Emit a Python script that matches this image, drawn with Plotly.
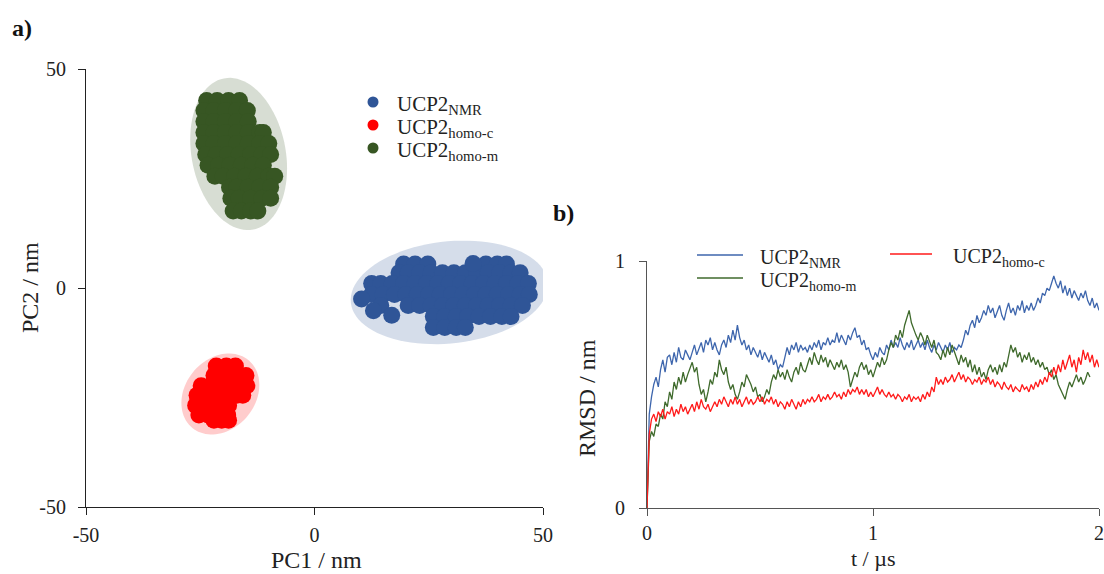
import numpy as np
import plotly.graph_objects as go

# ---------------- Panel a: PCA projection (PC1 / PC2, nm) ----------------
# cluster points typed row by row: one PC2 value per row, list of PC1 values per row
nmr_row_pc2 = [5.5, 3.5, 1.0, -1.5, -4.0, -6.5, -9.0, -2.5, -5.2, -6.2, 5.6]
nmr_row_pc1 = [
    [19.5, 22.0, 24.8, 37.5, 40.0, 42.0],
    [18.5, 20.5, 23.0, 25.5, 28.0, 30.5, 33.0, 35.5, 38.0, 40.5, 43.0, 45.0],
    [12.5, 14.5, 17.0, 19.5, 22.0, 24.5, 27.0, 29.5, 32.0, 34.5, 37.0, 39.5, 42.0, 44.5, 46.8],
    [12.5, 15.0, 17.5, 20.0, 22.5, 25.0, 27.5, 30.0, 32.5, 35.0, 37.5, 40.0, 42.5, 45.0, 47.0],
    [14.5, 20.5, 23.0, 25.5, 28.0, 30.5, 33.0, 35.5, 38.0, 40.5, 43.0, 45.5],
    [26.0, 28.5, 31.0, 33.5, 36.0, 38.5, 41.0, 43.0],
    [26.0, 28.5, 31.0, 33.0],
    [10.3],
    [12.9],
    [16.9],
    [34.7],
]

homoc_row_pc2 = [-17.8, -20.0, -22.3, -24.5, -26.8, -29.0, -30.2]
homoc_row_pc1 = [
    [-21.5, -19.3, -17.3],
    [-22.0, -19.8, -17.5, -15.0],
    [-24.8, -22.8, -20.5, -18.2, -16.0, -14.8],
    [-25.7, -23.8, -21.5, -19.2, -17.0, -15.7],
    [-26.0, -24.2, -22.0, -19.8, -18.8],
    [-25.3, -23.3, -21.0, -19.0],
    [-22.0, -20.3, -18.8],
]

homom_row_pc2 = [42.8, 40.5, 38.0, 35.5, 33.0, 30.5, 28.0, 25.5, 23.0, 20.5, 17.6]
homom_row_pc1 = [
    [-23.6, -21.3, -18.8, -16.4],
    [-24.2, -22.0, -19.5, -17.0, -14.7],
    [-24.2, -22.0, -19.5, -17.0, -14.5],
    [-24.2, -22.0, -19.5, -17.0, -14.5, -12.0, -11.2],
    [-24.2, -22.0, -19.5, -17.0, -14.5, -12.0, -10.0],
    [-23.8, -21.5, -19.0, -16.5, -14.0, -11.5, -9.6],
    [-23.3, -21.0, -18.5, -16.0, -13.5, -11.2],
    [-21.8, -20.0, -17.5, -15.0, -12.5, -10.0, -8.7],
    [-18.6, -17.0, -14.5, -12.0, -9.6],
    [-18.3, -16.5, -14.0, -11.5, -9.6],
    [-17.8, -16.0, -14.0, -12.4],
]

pc_tickvals = [-50, 0, 50]
pc_ticktext = ["-50", "0", "50"]

# ---------------- Panel b: RMSD vs time ----------------
t_us = [0.00, 0.01, 0.02, 0.03, 0.04, 0.05, 0.06, 0.07, 0.08, 0.09,
        0.10, 0.11, 0.12, 0.13, 0.14, 0.15, 0.16, 0.17, 0.18, 0.19,
        0.20, 0.21, 0.22, 0.23, 0.24, 0.25, 0.26, 0.27, 0.28, 0.29,
        0.30, 0.31, 0.32, 0.33, 0.34, 0.35, 0.36, 0.37, 0.38, 0.39,
        0.40, 0.41, 0.42, 0.43, 0.44, 0.45, 0.46, 0.47, 0.48, 0.49,
        0.50, 0.51, 0.52, 0.53, 0.54, 0.55, 0.56, 0.57, 0.58, 0.59,
        0.60, 0.61, 0.62, 0.63, 0.64, 0.65, 0.66, 0.67, 0.68, 0.69,
        0.70, 0.71, 0.72, 0.73, 0.74, 0.75, 0.76, 0.77, 0.78, 0.79,
        0.80, 0.81, 0.82, 0.83, 0.84, 0.85, 0.86, 0.87, 0.88, 0.89,
        0.90, 0.91, 0.92, 0.93, 0.94, 0.95, 0.96, 0.97, 0.98, 0.99,
        1.00, 1.01, 1.02, 1.03, 1.04, 1.05, 1.06, 1.07, 1.08, 1.09,
        1.10, 1.11, 1.12, 1.13, 1.14, 1.15, 1.16, 1.17, 1.18, 1.19,
        1.20, 1.21, 1.22, 1.23, 1.24, 1.25, 1.26, 1.27, 1.28, 1.29,
        1.30, 1.31, 1.32, 1.33, 1.34, 1.35, 1.36, 1.37, 1.38, 1.39,
        1.40, 1.41, 1.42, 1.43, 1.44, 1.45, 1.46, 1.47, 1.48, 1.49,
        1.50, 1.51, 1.52, 1.53, 1.54, 1.55, 1.56, 1.57, 1.58, 1.59,
        1.60, 1.61, 1.62, 1.63, 1.64, 1.65, 1.66, 1.67, 1.68, 1.69,
        1.70, 1.71, 1.72, 1.73, 1.74, 1.75, 1.76, 1.77, 1.78, 1.79,
        1.80, 1.81, 1.82, 1.83, 1.84, 1.85, 1.86, 1.87, 1.88, 1.89,
        1.90, 1.91, 1.92, 1.93, 1.94, 1.95, 1.96, 1.97, 1.98, 1.99,
        2.00]

rmsd_nmr = [0.00, 0.38, 0.45, 0.50, 0.53, 0.49, 0.56, 0.60, 0.55, 0.61,
            0.62, 0.58, 0.63, 0.59, 0.65, 0.61, 0.60, 0.64, 0.62, 0.60,
            0.63, 0.66, 0.62, 0.65, 0.67, 0.63, 0.68, 0.66, 0.69, 0.64,
            0.67, 0.64, 0.62, 0.66, 0.68, 0.65, 0.70, 0.67, 0.72, 0.68,
            0.74, 0.69, 0.66, 0.68, 0.64, 0.66, 0.62, 0.65, 0.63, 0.61,
            0.64, 0.60, 0.63, 0.61, 0.59, 0.62, 0.58, 0.60, 0.56, 0.58,
            0.57, 0.61, 0.65, 0.62, 0.66, 0.64, 0.67, 0.63, 0.66, 0.64,
            0.65, 0.63, 0.66, 0.64, 0.67, 0.65, 0.68, 0.64, 0.67, 0.66,
            0.69, 0.66, 0.68, 0.67, 0.71, 0.67, 0.70, 0.68, 0.66, 0.70,
            0.68, 0.71, 0.73, 0.69, 0.70, 0.66, 0.68, 0.64, 0.65, 0.62,
            0.60, 0.63, 0.61, 0.65, 0.63, 0.62, 0.66, 0.64, 0.68, 0.65,
            0.67, 0.65, 0.69, 0.66, 0.64, 0.67, 0.65, 0.68, 0.64, 0.66,
            0.68, 0.65, 0.67, 0.64, 0.68, 0.65, 0.63, 0.66, 0.64, 0.67,
            0.65, 0.63, 0.66, 0.64, 0.67, 0.63, 0.65, 0.64, 0.66, 0.65,
            0.68, 0.72, 0.70, 0.74, 0.76, 0.73, 0.78, 0.75, 0.77, 0.80,
            0.78, 0.82, 0.79, 0.81, 0.77, 0.80, 0.82, 0.78, 0.76, 0.80,
            0.83, 0.79, 0.81, 0.78, 0.82, 0.80, 0.84, 0.79, 0.82, 0.80,
            0.83, 0.80, 0.82, 0.85, 0.83, 0.87, 0.86, 0.89, 0.88, 0.91,
            0.94, 0.91, 0.89, 0.92, 0.87, 0.90, 0.86, 0.89, 0.85, 0.88,
            0.86, 0.84, 0.87, 0.85, 0.88, 0.84, 0.82, 0.85, 0.81, 0.83,
            0.80]

rmsd_homom = [0.00, 0.27, 0.31, 0.29, 0.34, 0.33, 0.38, 0.36, 0.43, 0.41,
              0.47, 0.44, 0.51, 0.48, 0.53, 0.50, 0.55, 0.51, 0.54, 0.57,
              0.59, 0.55, 0.57, 0.50, 0.46, 0.48, 0.43, 0.47, 0.52, 0.50,
              0.55, 0.53, 0.60, 0.56, 0.54, 0.57, 0.51, 0.48, 0.50, 0.46,
              0.44, 0.47, 0.51, 0.49, 0.54, 0.52, 0.50, 0.47, 0.49, 0.45,
              0.46, 0.43, 0.45, 0.48, 0.46, 0.51, 0.54, 0.52, 0.56, 0.53,
              0.55, 0.52, 0.56, 0.53, 0.51, 0.55, 0.57, 0.54, 0.59, 0.56,
              0.55, 0.58, 0.61, 0.58, 0.63, 0.60, 0.58, 0.62, 0.59, 0.61,
              0.57, 0.60, 0.58, 0.56, 0.59, 0.57, 0.60, 0.56, 0.58, 0.55,
              0.49, 0.52, 0.55, 0.53, 0.57, 0.59, 0.56, 0.58, 0.54, 0.56,
              0.53, 0.56, 0.59, 0.57, 0.61, 0.58, 0.60, 0.64, 0.67, 0.65,
              0.70, 0.68, 0.72, 0.69, 0.74, 0.77, 0.80, 0.75, 0.72, 0.70,
              0.68, 0.71, 0.69, 0.66, 0.70, 0.67, 0.65, 0.68, 0.63, 0.62,
              0.60, 0.64, 0.61, 0.65, 0.62, 0.66, 0.63, 0.61, 0.58, 0.62,
              0.59, 0.61, 0.57, 0.60, 0.55, 0.58, 0.54, 0.57, 0.53, 0.55,
              0.52, 0.56, 0.58, 0.55, 0.57, 0.54, 0.58, 0.55, 0.59, 0.57,
              0.61, 0.66, 0.63, 0.65, 0.61, 0.63, 0.59, 0.62, 0.60, 0.63,
              0.59, 0.61, 0.58, 0.60, 0.57, 0.59, 0.56, 0.57, 0.54, 0.56,
              0.52, 0.54, 0.50, 0.48, 0.46, 0.44, 0.48, 0.51, 0.49, 0.52,
              0.54, 0.51, 0.53, 0.50, 0.52, 0.55, 0.53, None, None, None,
              None]

rmsd_homoc = [0.00, 0.30, 0.36, 0.38, 0.35, 0.39, 0.37, 0.40, 0.36, 0.39,
              0.38, 0.41, 0.37, 0.40, 0.38, 0.42, 0.39, 0.41, 0.38, 0.40,
              0.42, 0.39, 0.43, 0.40, 0.44, 0.41, 0.40, 0.42, 0.39, 0.41,
              0.43, 0.41, 0.44, 0.42, 0.45, 0.43, 0.41, 0.44, 0.42, 0.45,
              0.42, 0.44, 0.41, 0.43, 0.45, 0.42, 0.44, 0.42, 0.43, 0.45,
              0.43, 0.45, 0.42, 0.44, 0.43, 0.45, 0.42, 0.44, 0.41, 0.43,
              0.42, 0.40, 0.43, 0.41, 0.44, 0.42, 0.40, 0.43, 0.41, 0.44,
              0.42, 0.44, 0.43, 0.45, 0.43, 0.44, 0.46, 0.43, 0.45, 0.44,
              0.46, 0.44, 0.45, 0.47, 0.45, 0.46, 0.44, 0.47, 0.45, 0.48,
              0.46, 0.48, 0.47, 0.49, 0.46, 0.48, 0.46, 0.48, 0.45, 0.47,
              0.45, 0.47, 0.49, 0.46, 0.48, 0.46, 0.45, 0.47, 0.45, 0.46,
              0.44, 0.46, 0.45, 0.43, 0.45, 0.44, 0.46, 0.43, 0.45, 0.44,
              0.45, 0.43, 0.46, 0.44, 0.47, 0.45, 0.49, 0.47, 0.53, 0.50,
              0.52, 0.50, 0.53, 0.51, 0.52, 0.54, 0.51, 0.53, 0.55, 0.52,
              0.54, 0.51, 0.53, 0.52, 0.50, 0.52, 0.51, 0.53, 0.50, 0.52,
              0.51, 0.53, 0.50, 0.52, 0.49, 0.51, 0.50, 0.48, 0.51, 0.49,
              0.48, 0.50, 0.47, 0.49, 0.48, 0.47, 0.50, 0.48, 0.49, 0.47,
              0.50, 0.48, 0.51, 0.49, 0.52, 0.50, 0.53, 0.51, 0.55, 0.53,
              0.57, 0.54, 0.58, 0.55, 0.60, 0.56, 0.59, 0.62, 0.57, 0.60,
              0.55, 0.61, 0.58, 0.64, 0.60, 0.63, 0.59, 0.62, 0.57, 0.60,
              0.57]

series_names = ["UCP2<sub>NMR</sub>", "UCP2<sub>homo-c</sub>", "UCP2<sub>homo-m</sub>"]

# ---------------- styling ----------------
W, H = 1104, 574
FONT = "Liberation Serif, Times New Roman, serif"
C_NMR, C_HC, C_HM = "#2f5597", "#ff0000", "#375623"
L_NMR, L_HC, L_HM = "#3e66ad", "#ff1a1a", "#3f6a2c"

# plot-area pixel boxes (left, right, top, bottom)
A_BOX = (86, 543, 69, 507)
B_BOX = (647, 1099, 261, 508)


def dom(box):
    l, r, t, b = box
    return [l / W, r / W], [(H - b) / H, (H - t) / H]


def px(x, y):
    return x / W, 1 - y / H


ax_dom_x, ax_dom_y = dom(A_BOX)
bx_dom_x, bx_dom_y = dom(B_BOX)
SX = (A_BOX[1] - A_BOX[0]) / 100.0   # px per PC1 unit
SY = (A_BOX[3] - A_BOX[2]) / 100.0   # px per PC2 unit


def flatten(row_y, row_x):
    xs, ys = [], []
    for y, xl in zip(row_y, row_x):
        for x in xl:
            xs.append(x)
            ys.append(y)
    return xs, ys


def ellipse_path(cx, cy, a_px, b_px, ang_deg, n=90):
    th = np.radians(ang_deg)
    s = np.linspace(0, 2 * np.pi, n, endpoint=False)
    ex = a_px * np.cos(s) * np.cos(th) - b_px * np.sin(s) * np.sin(th)
    ey = a_px * np.cos(s) * np.sin(th) + b_px * np.sin(s) * np.cos(th)
    xs = cx + ex / SX
    ys = cy + ey / SY
    pts = " L ".join(f"{x:.3f},{y:.3f}" for x, y in zip(xs, ys))
    return "M " + pts + " Z"


fig = go.Figure()

for (ry, rx), name, col in zip(
        [(nmr_row_pc2, nmr_row_pc1), (homoc_row_pc2, homoc_row_pc1), (homom_row_pc2, homom_row_pc1)],
        series_names, [C_NMR, C_HC, C_HM]):
    xs, ys = flatten(ry, rx)
    fig.add_trace(go.Scatter(x=xs, y=ys, mode="markers", name=name, showlegend=False,
                             marker=dict(size=17, color=col, line=dict(width=0)),
                             xaxis="x", yaxis="y"))

for yv, name, col in [(rmsd_nmr, series_names[0], L_NMR),
                      (rmsd_homom, series_names[2], L_HM),
                      (rmsd_homoc, series_names[1], L_HC)]:
    fig.add_trace(go.Scatter(x=t_us, y=yv, mode="lines", name=name, showlegend=False,
                             line=dict(color=col, width=1.3), xaxis="x2", yaxis="y2"))

shapes = [
    dict(type="path", xref="x", yref="y", layer="below", line=dict(width=0),
         fillcolor="rgba(47,85,151,0.2)", path=ellipse_path(29.5, -1.0, 99, 51, 6)),
    dict(type="path", xref="x", yref="y", layer="below", line=dict(width=0),
         fillcolor="rgba(255,0,0,0.2)", path=ellipse_path(-20.6, -24.2, 44, 35, 50)),
    dict(type="path", xref="x", yref="y", layer="below", line=dict(width=0),
         fillcolor="rgba(55,86,35,0.2)", path=ellipse_path(-16.6, 30.6, 77, 47, 101)),
]

annotations = []
leg_font_a = dict(family=FONT, size=21, color="#222")
leg_font_b = dict(family=FONT, size=20, color="#222")

# legend of panel a (dot + label)
for (cy, name, col) in [(102, series_names[0], C_NMR), (125, series_names[1], C_HC),
                        (148, series_names[2], C_HM)]:
    xa, ya = px(373, cy)
    shapes.append(dict(type="circle", xref="paper", yref="paper", xsizemode="pixel",
                       ysizemode="pixel", xanchor=xa, yanchor=ya, x0=-5.5, x1=5.5,
                       y0=-5.5, y1=5.5, fillcolor=col, line=dict(width=0)))
    tx, ty = px(395, cy + 3)
    annotations.append(dict(text=name, x=tx, y=ty, xref="paper", yref="paper",
                            xanchor="left", yanchor="middle", showarrow=False, font=leg_font_a))

# legend of panel b (line sample + label)
for (x0, x1, cy, tx0, name, col) in [(697, 743, 255, 758, series_names[0], L_NMR),
                                     (697, 743, 278, 758, series_names[2], L_HM),
                                     (890, 932, 254, 951, series_names[1], L_HC)]:
    a0, b0 = px(x0, cy)
    a1, _ = px(x1, cy)
    shapes.append(dict(type="line", xref="paper", yref="paper", x0=a0, x1=a1, y0=b0, y1=b0,
                       line=dict(color=col, width=1.5)))
    tx, ty = px(tx0, cy + 3)
    annotations.append(dict(text=name, x=tx, y=ty, xref="paper", yref="paper",
                            xanchor="left", yanchor="middle", showarrow=False, font=leg_font_b))

ann_font = dict(family=FONT, size=24, color="#222")
lab_font = dict(family=FONT, size=24, color="#111")
for text, x, y, ang, fs in [("<b>a)</b>", 22, 28, 0, 24), ("<b>b)</b>", 563, 213, 0, 24),
                            ("PC2 / nm", 30, 288, -90, 24), ("PC1 / nm", 316, 560, 0, 24),
                            ("RMSD / nm", 587, 398, -90, 24), ("t / µs", 873, 558, 0, 22)]:
    xa, ya = px(x, y)
    f = dict(lab_font if text.startswith("<b>") else ann_font)
    f["size"] = fs
    annotations.append(dict(text=text, x=xa, y=ya, xref="paper", yref="paper", textangle=ang,
                            xanchor="center", yanchor="middle", showarrow=False, font=f))

axis_common = dict(showgrid=False, zeroline=False, showline=True, ticks="outside",
                   ticklen=7, tickwidth=1, tickfont=dict(family=FONT, size=20, color="#222"),
                   automargin=False, fixedrange=True)

fig.update_layout(
    width=W, height=H,
    margin=dict(l=0, r=0, t=0, b=0),
    paper_bgcolor="white", plot_bgcolor="white",
    font=dict(family=FONT, color="#222"),
    showlegend=False,
    xaxis=dict(domain=ax_dom_x, range=[-50, 50], tickvals=pc_tickvals, ticktext=pc_ticktext,
               anchor="y", linecolor="#222", tickcolor="#222", ticklabelstandoff=3, **axis_common),
    yaxis=dict(domain=ax_dom_y, range=[-50, 50], tickvals=pc_tickvals, ticktext=pc_ticktext,
               anchor="x", linecolor="#222", tickcolor="#222", ticklabelstandoff=8, **axis_common),
    xaxis2=dict(domain=bx_dom_x, range=[0, 2], tickvals=[0, 1, 2], anchor="y2",
                linecolor="#555", tickcolor="#555", ticklabelstandoff=0, **axis_common),
    yaxis2=dict(domain=bx_dom_y, range=[0, 1], tickvals=[0, 1], anchor="x2",
                linecolor="#555", tickcolor="#555", ticklabelstandoff=10, **axis_common),
    shapes=shapes,
    annotations=annotations,
)

fig.write_html("out.html", config={"displayModeBar": False},
               post_script="document.body.style.margin='0';")
